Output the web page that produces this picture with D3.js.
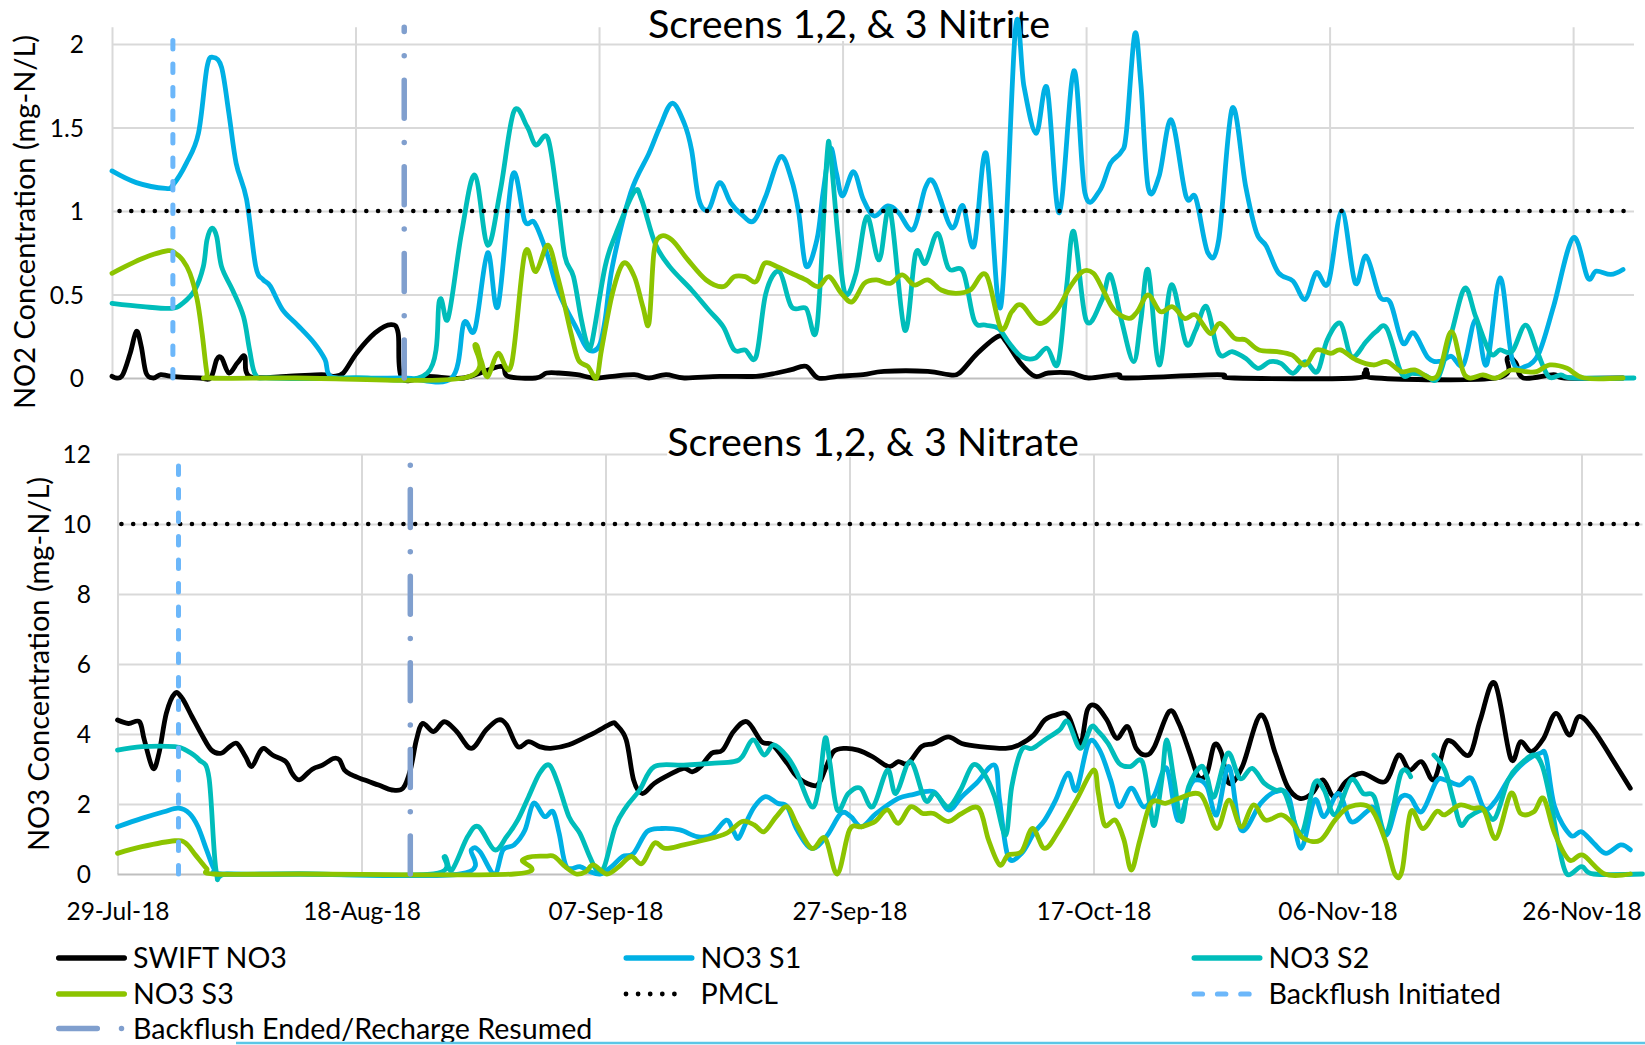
<!DOCTYPE html>
<html>
<head>
<meta charset="utf-8">
<script src="https://cdn.jsdelivr.net/npm/d3@7"></script>
<style>
  html, body { margin: 0; padding: 0; background: #ffffff; }
  svg { display: block; }
  text { font-family: Lato, "Open Sans", "Noto Sans", sans-serif; fill: #000000; }
</style>
</head>
<body>
<svg id="chart" width="1645" height="1045"></svg>
<script>
// ---------------------------------------------------------------------------
// Data: day offsets from the start date, concentration in mg-N/L
// ---------------------------------------------------------------------------
const startDate = "2018-07-29";
const endDate = "2018-12-01";
const xTickLabels = ["29-Jul-18", "18-Aug-18", "07-Sep-18", "27-Sep-18", "17-Oct-18", "06-Nov-18", "26-Nov-18"];
const no2TickValues = [0, 0.5, 1, 1.5, 2];
const no3TickValues = [0, 2, 4, 6, 8, 10, 12];
const no2Pmcl = 1;
const no3Pmcl = 10;
const backflushInitiatedDate = "2018-08-03";
const backflushEndedDate = "2018-08-22";
const seriesNames = ["SWIFT NO3", "NO3 S1", "NO3 S2", "NO3 S3"];

// Screens 1,2 & 3 nitrite
const no2Swift = [[0,0.01],[0.8,0.01],[1.5,0.15],[2,0.28],[2.4,0.19],[2.8,0.03],[3.4,0],[4,0.02],[4.9,0.01],[7.2,0],[8.1,0],[8.6,0.11],[9,0.12],[9.6,0.03],[10.3,0.09],[10.9,0.13],[11.3,0.01],[14.3,0.01],[17.2,0.02],[18.2,0.01],[19,0.03],[20.1,0.15],[21.6,0.27],[22.9,0.32],[23.5,0.27],[23.8,0],[26,0.01],[28.9,0],[31.9,0.07],[32.5,0.01],[34.8,0],[35.7,0.03],[36.7,0.03],[38.2,0.02],[39.6,0],[41.1,0.01],[42.9,0.02],[44.1,0],[45.5,0.02],[47,0],[49.9,0.01],[52.9,0.01],[54.6,0.03],[55.8,0.05],[57,0.07],[58,0],[59.6,0.01],[61.7,0.02],[63.4,0.04],[67,0.04],[68.7,0.02],[69.6,0.03],[71.1,0.15],[72.8,0.25],[73.4,0.22],[74.6,0.09],[75.8,0.01],[76.9,0.03],[78.7,0.03],[80.2,0],[82.6,0.02],[83.5,0],[90.8,0.02],[92.2,0],[102.1,0],[103,0.05],[103.8,0],[113.7,0],[114.6,0.12],[115.3,0.09],[115.9,0],[118.4,0.02],[119.3,0],[124.1,0]];
const no2S1 = [[0,1.24],[2,1.17],[4.4,1.135],[5,1.155],[6.1,1.285],[7.1,1.465],[7.8,1.86],[8.3,1.92],[9,1.86],[9.6,1.585],[10.2,1.285],[11.05,1.07],[11.8,0.67],[12.4,0.59],[13,0.55],[14,0.41],[15.2,0.32],[16.6,0.21],[17.5,0.11],[17.95,0.01],[20,0],[24,0],[27.9,0],[28.9,0.33],[29.8,0.29],[30.85,0.75],[31.7,0.43],[32.9,1.215],[33.9,0.94],[34.7,0.93],[35.7,0.75],[36.7,0.51],[38.2,0.29],[39.1,0.17],[40,0.19],[40.5,0.35],[41.1,0.67],[42.6,1.11],[44.1,1.345],[45,1.505],[46,1.645],[47,1.525],[47.6,1.365],[48.2,1.07],[49,1.01],[49.9,1.17],[50.8,1.05],[51.7,0.98],[52.7,0.94],[53.7,1.09],[54.9,1.325],[55.8,1.19],[56.4,0.99],[57,0.67],[57.9,0.83],[58.4,1.11],[59,1.375],[59.5,1.225],[60,1.09],[60.9,1.235],[61.7,1.07],[62.6,0.97],[63.7,1.03],[64.6,0.99],[65.8,0.89],[66.8,1.14],[67.5,1.17],[68.7,0.93],[69.2,0.91],[69.9,1.03],[70.8,0.79],[71.8,1.345],[73,0.43],[74.2,2.09],[74.9,1.745],[75.9,1.465],[76.8,1.735],[77.8,0.99],[79,1.84],[79.9,1.11],[81.1,1.12],[82,1.285],[82.9,1.355],[83.3,1.465],[84,2.06],[84.5,1.76],[85.1,1.14],[86,1.21],[87,1.545],[88.2,1.09],[89,1.08],[90,0.75],[90.9,0.83],[92,1.615],[93.1,1.15],[94,0.87],[94.8,0.79],[95.8,0.63],[97,0.58],[98,0.47],[98.9,0.63],[99.9,0.57],[101,1.0],[102.1,0.57],[103,0.73],[104.1,0.49],[105,0.45],[106,0.21],[106.9,0.27],[108.1,0.12],[109.1,0.1],[110,0.13],[111,0.08],[112,0.35],[112.9,0.08],[114,0.6],[115,0.11],[116.1,0.07],[117.2,0.15],[118.4,0.43],[120,0.84],[121.2,0.6],[121.9,0.64],[123.1,0.62],[124.1,0.65]];
const no2S2 = [[0,0.447],[2.55,0.427],[4.9,0.417],[5.8,0.447],[6.8,0.527],[7.5,0.667],[7.8,0.826],[8.2,0.896],[8.6,0.846],[9,0.667],[9.9,0.527],[10.8,0.367],[11.3,0.168],[11.8,0.018],[13,0],[20,0],[25.9,0.03],[26.9,0.467],[27.6,0.357],[28.7,0.866],[29.8,1.215],[30.85,0.796],[31.9,1.126],[33,1.595],[34.1,1.505],[34.8,1.395],[35.8,1.435],[36.6,1.066],[37.2,0.727],[37.9,0.607],[38.5,0.367],[39,0.208],[39.4,0.208],[40.5,0.667],[41.4,0.866],[42.9,1.116],[43.5,1.066],[44.6,0.806],[45.8,0.667],[47.6,0.527],[49,0.407],[50.2,0.307],[51.1,0.168],[52,0.168],[52.9,0.128],[53.7,0.507],[54.8,0.637],[55.8,0.427],[57,0.417],[57.9,0.307],[58.7,1.305],[59,1.345],[59.6,0.866],[60.2,0.507],[61.1,0.627],[62,0.966],[63,0.707],[63.9,1.006],[65.1,0.287],[66,0.746],[66.8,0.687],[67.8,0.866],[68.7,0.657],[69.9,0.637],[70.8,0.347],[71.7,0.317],[72.8,0.297],[73.7,0.208],[74.7,0.128],[75.8,0.118],[76.8,0.178],[77.7,0.088],[78.4,0.547],[79,0.876],[80,0.347],[81.3,0.467],[82,0.617],[82.9,0.347],[83.9,0.098],[84.5,0.347],[85.1,0.647],[86,0.078],[87,0.557],[88.2,0.208],[89,0.287],[89.9,0.427],[90.9,0.148],[92,0.158],[93.1,0.118],[94.1,0.058],[95.1,0.098],[96,0.088],[97,0.028],[98,0.098],[99,0.038],[99.8,0.228],[100.9,0.327],[101.8,0.128],[103,0.218],[103.8,0.277],[104.7,0.297],[105.9,0.028],[106.8,0.028],[107.8,0.018],[108.9,0],[110,0.267],[111.1,0.537],[112,0.367],[113.2,0.148],[114,0.168],[115,0.16],[116.1,0.317],[117.1,0.148],[118,0.008],[119,0.018],[120,0],[125,0]];
const no2S3 = [[0,0.627],[2.55,0.717],[4.6,0.762],[5.2,0.747],[5.8,0.707],[6.4,0.627],[7,0.467],[7.4,0.267],[7.8,0.028],[8.1,0],[15,0],[28.9,0],[29.8,0.198],[30.3,0.108],[30.85,0.008],[31.7,0.148],[32.8,0.078],[33.9,0.746],[34.8,0.637],[35.8,0.796],[36.6,0.607],[37.2,0.427],[37.7,0.267],[38.3,0.108],[39.1,0.068],[39.8,0],[40.2,0.168],[41.1,0.507],[42,0.687],[42.9,0.607],[43.6,0.427],[44.1,0.327],[44.5,0.746],[45,0.846],[46,0.826],[47.3,0.707],[48.8,0.587],[50.2,0.547],[51.1,0.607],[52,0.607],[52.9,0.577],[53.6,0.687],[54.6,0.667],[55.8,0.627],[57,0.587],[58,0.547],[58.9,0.607],[59.9,0.507],[60.8,0.457],[61.8,0.567],[62.8,0.587],[63.9,0.567],[64.9,0.617],[65.9,0.557],[67,0.587],[68.1,0.527],[69.3,0.507],[70.5,0.527],[71.8,0.617],[73,0.297],[73.9,0.397],[74.7,0.437],[76.1,0.327],[77.5,0.397],[78.7,0.547],[79.7,0.637],[80.6,0.627],[81.4,0.527],[82.3,0.407],[83.5,0.357],[84.2,0.397],[85.1,0.497],[86.1,0.397],[87.1,0.427],[88.1,0.357],[89,0.377],[90.2,0.267],[91,0.327],[92.2,0.238],[93.1,0.228],[94.2,0.168],[95.7,0.158],[96.9,0.138],[98,0.078],[98.9,0.168],[100.1,0.148],[100.9,0.168],[102.2,0.108],[103.6,0.078],[104.7,0.098],[105.9,0.038],[107,0.048],[108.8,0.008],[110,0.277],[111.1,0.018],[112.6,0.018],[113.7,0],[114.9,0.048],[116.1,0.038],[117,0.038],[118.1,0.078],[119.5,0.058],[120.9,0],[124.1,0]];

// Screens 1,2 & 3 nitrate (null marks a missing sample)
const no3Swift = [[0,4.4],[0.9,4.3],[1.8,4.35],[2.2,3.83],[2.9,3.02],[3.4,3.45],[4,4.59],[4.7,5.16],[5.3,5.02],[6.1,4.5],[7,3.92],[7.7,3.54],[8.5,3.45],[9.2,3.64],[9.8,3.73],[10.5,3.35],[11,3.07],[11.6,3.45],[12,3.59],[12.7,3.4],[13.8,3.21],[14.3,2.88],[14.9,2.69],[15.7,2.92],[16.1,3.02],[16.8,3.11],[17.7,3.3],[18.2,3.26],[18.6,2.97],[19.2,2.83],[20.2,2.69],[21.4,2.54],[22.5,2.4],[23.4,2.45],[24,2.97],[24.5,3.83],[25,4.3],[25.9,4.07],[26.8,4.35],[27.8,4.07],[29,3.59],[30.2,4.11],[31.2,4.4],[31.9,4.26],[32.8,3.64],[33.7,3.78],[34.6,3.64],[35.5,3.59],[37,3.69],[39,4.02],[40.5,4.3],[40.9,4.26],[41.7,3.83],[42.3,2.69],[43,2.3],[44,2.59],[45.2,2.83],[46.4,3.02],[47.1,2.92],[47.8,3.07],[48.7,3.45],[49.6,3.54],[50.5,4.07],[51.6,4.35],[52.8,3.78],[53.7,3.69],[54.9,3.16],[55.7,2.78],[56.9,2.54],[57.5,2.59],[58.1,3.07],[58.7,3.5],[59.6,3.59],[60.7,3.54],[61.9,3.35],[63.2,3.07],[64,3.21],[64.8,3.16],[65.9,3.64],[66.9,3.73],[68.1,3.92],[69.2,3.73],[70.7,3.64],[72.8,3.59],[73.9,3.69],[75.1,3.97],[76,4.4],[76.9,4.54],[77.9,4.54],[78.9,3.73],[79.5,4.69],[80.2,4.8],[81.1,4.4],[81.9,3.88],[82.8,4.21],[83.5,3.59],[84.3,3.4],[85,3.64],[86.2,4.64],[87,4.3],[87.9,3.45],[88.6,2.78],[89.3,2.88],[89.9,3.69],[90.5,3.45],[91.1,2.59],[92.2,3.07],[93.7,4.54],[94.9,3.45],[95.9,2.5],[96.9,2.16],[97.9,2.3],[98.8,2.69],[99.7,2.21],[100.7,2.64],[102,2.88],[103.9,2.64],[105,3.4],[105.9,2.97],[106.9,3.21],[107.9,2.69],[108.8,3.69],[109.4,3.78],[110.8,3.4],[111.7,4.4],[112.9,5.45],[114.2,3.3],[115,3.78],[115.9,3.5],[116.9,3.88],[117.9,4.59],[119,3.97],[119.8,4.5],[121,4.11],[122.4,3.35],[124,2.45]];
const no3S1 = [[0,1.35],[2,1.59],[3.8,1.78],[5,1.88],[5.9,1.73],[6.6,1.35],[7.3,0.69],[7.9,0.16],[8.5,0],[15,0],[28.1,0],[29,0.69],[29.7,0.64],[30.9,0],[31.6,0.69],[32.5,0.83],[33.4,1.26],[34.1,2.02],[35,1.64],[35.7,1.78],[36.2,1.16],[36.8,0.21],[37.9,0.21],[38.7,0.07],[39.6,0],[40.5,0.21],[41.4,0.5],[42.3,0.59],[43.4,1.21],[44.6,1.3],[46.1,1.26],[47.5,1.07],[48.7,1.11],[49.9,1.54],[50.5,1.21],[50.9,1.02],[51.5,1.45],[52.2,1.92],[53.1,2.21],[54.1,2.02],[54.9,1.92],[55.7,1.26],[56.9,0.73],[58.1,1.07],[59.3,1.73],[60.1,1.64],[61,1.35],[62.2,1.73],[64,2.16],[65.1,2.26],[66.9,2.35],[68.1,1.83],[69.2,2.21],[70.4,2.59],[71.9,3.11],[72.3,2.11],[73,0.5],[74.1,0.59],[75.1,1.16],[76,1.54],[76.9,2.11],[77.9,2.88],[78.6,2.4],[79.6,3.75],[80.5,3.54],[81.4,2.69],[82.1,1.92],[83.1,2.45],[84.1,1.92],[85,2.26],[86,3.02],[86.9,1.54],[87.9,2.5],[88.5,2.69],[89.3,2.5],[90.1,1.69],[91.1,3.07],[92.1,1.26],[93.7,2.02],[94.9,2.35],[96,2.21],[97,0.73],[98.1,2.11],[98.9,1.64],[100.1,2.3],[101.1,1.5],[102.4,1.78],[103,1.88],[104,1.11],[105,2.11],[105.9,2.21],[106.9,1.78],[108.1,2.64],[108.8,2.69],[110,2.54],[111,2.73],[112,1.88],[112.9,2.07],[114,2.69],[115.2,3.16],[116.6,3.45],[117.1,3.35],[117.8,1.92],[119.1,1.11],[120,1.21],[121,0.88],[122,0.59],[123.2,0.83],[124,0.69]];
const no3S2 = [[0,3.54],[2,3.64],[4.7,3.64],[5.6,3.54],[6.7,3.26],[7.5,2.75],[8.1,0.05],[9,0],[15,0],[25.9,0],[26.8,0.5],[27.4,0.11],[28.7,1.07],[29.6,1.35],[30.9,0.69],[31.9,1.07],[32.8,1.54],[33.7,2.21],[34.6,2.88],[35.4,3.11],[36.1,2.59],[37,1.64],[37.9,1.16],[38.7,0.5],[39.3,0.11],[39.9,0.21],[40.8,1.35],[41.7,1.92],[42.8,2.4],[44,3.07],[46.4,3.11],[48.7,3.16],[50.5,3.21],[51.2,3.35],[52.1,3.83],[53,3.4],[53.8,3.69],[54.9,3.35],[55.7,2.88],[56.9,1.92],[57.5,2.5],[58,3.88],[58.4,3.16],[59,1.83],[59.9,2.3],[60.9,2.45],[61.9,1.92],[63.1,2.97],[63.8,2.3],[65,3.21],[66.2,2.11],[67,2.3],[68.1,1.92],[69.1,2.4],[70.1,3.11],[71,2.88],[71.9,2.21],[72.8,1.11],[73.3,2.5],[74.1,3.54],[75,3.59],[76,3.83],[77.2,4.11],[77.9,4.35],[78.9,3.59],[79.8,4.2],[80.3,4.11],[81.2,3.73],[82.1,3.16],[83,3.07],[84,3.21],[84.6,2.02],[85,1.4],[85.6,2.69],[86,3.83],[86.6,2.69],[87.2,1.5],[87.8,2.5],[88.8,3.07],[89.3,2.78],[89.9,2.21],[91,3.45],[92,2.73],[93,3.02],[94,2.59],[94.9,2.4],[95.7,2.3],[97,1.16],[98.1,2.59],[98.9,2.4],[99.8,1.69],[101.1,2.69],[102.1,2.3],[103,2.21],[104,1.16],[105.2,2.88],[106,2.78],[107,null],[107.9,3.4],[108.8,2.97],[109.5,2.11],[110.1,1.4],[110.8,1.64],[112,1.83],[112.9,1.59],[114,2.69],[114.9,3.11],[116.1,3.4],[116.8,3.07],[117.5,2.02],[118.1,0.88],[118.8,0],[120,0.21],[121,0],[125,0]];
const no3S3 = [[0,0.59],[2,0.78],[4.7,0.95],[5.6,0.88],[6.4,0.54],[7.3,0.16],[7.9,0],[15,0],[32.5,0],[33.2,0.4],[34,0.5],[35.1,0.51],[35.8,0.5],[36.7,0.21],[37.6,0],[38.4,0.07],[39,0.26],[40.1,0],[41.1,0.21],[42.1,0.5],[43,0.3],[44,0.88],[44.9,0.73],[46.4,0.83],[48.1,0.97],[49.9,1.16],[51.2,1.5],[52.2,1.4],[53,1.21],[54,1.64],[54.9,1.92],[55.7,1.4],[56.9,0.73],[58,1.02],[59,0],[60,1.26],[61,1.35],[62.1,1.5],[63.1,1.83],[64,1.45],[65,1.92],[66,1.73],[66.9,1.73],[68.1,1.5],[69.2,1.73],[70.6,1.88],[71.4,0.97],[72.3,0.26],[73,0.54],[74.1,0.64],[75,1.3],[76,0.73],[77.2,1.26],[78.6,2.11],[80,2.97],[80.4,2.3],[80.9,1.4],[81.8,1.54],[82.5,0.97],[83.1,0.11],[83.8,0.97],[84.7,2.02],[85.9,2.02],[87,2.16],[88.8,2.26],[90.1,1.3],[91.1,2.11],[92.1,1.35],[93.1,1.97],[94.1,1.54],[95.4,1.69],[96.3,1.45],[97.2,1.02],[98.6,0.97],[99.8,1.54],[101,1.92],[102.7,1.88],[103.9,0.97],[104.7,0],[105.3,0.11],[106,1.78],[107,1.3],[108.1,1.78],[108.8,1.69],[110,1.97],[111.1,1.88],[112,1.83],[113,1.02],[114.2,2.3],[115,1.73],[116.1,1.78],[116.9,2.16],[117.8,1.16],[119,0.4],[120.1,0.54],[121.9,0],[124,0]];

// ---------------------------------------------------------------------------
// Styles
// ---------------------------------------------------------------------------
const seriesColors = ["#000000", "#00B0E4", "#00BDBA", "#8CC400"];
const gridColor = "#D9D9D9";
const axisColor = "#BFBFBF";
const initiatedColor = "#6CB7FA";
const endedColor = "#809FCE";

const svg = d3.select("#chart");
const parseIso = d3.utcParse("%Y-%m-%d");
const parseTick = d3.utcParse("%d-%b-%y");
const formatTick = d3.utcFormat("%d-%b-%y");
const t0 = parseIso(startDate);
const t1 = parseIso(endDate);
const dayToDate = d => new Date(t0.getTime() + d * 864e5);
const tickDates = xTickLabels.map(parseTick);

function drawPanel(cfg) {
  const x = d3.scaleUtc().domain([t0, t1]).range([cfg.left, cfg.right]);
  const y = d3.scaleLinear().domain([0, cfg.yMax]).range([cfg.bottom, cfg.top]);
  const g = svg.append("g");
  const h = cfg.bottom - cfg.top;
  const w = cfg.right - cfg.left;

  // vertical gridlines
  const vg = g.append("g")
    .attr("transform", `translate(0,${cfg.bottom})`)
    .call(d3.axisBottom(x).tickValues(tickDates).tickSize(-h).tickFormat(""));
  vg.select(".domain").remove();
  vg.selectAll(".tick line").attr("stroke", gridColor).attr("stroke-width", 2);

  // horizontal gridlines + value labels
  const hg = g.append("g")
    .attr("transform", `translate(${cfg.left},0)`)
    .call(d3.axisLeft(y).tickValues(cfg.ticks).tickSize(-w).tickPadding(cfg.yPad).tickFormat(d3.format("")));
  hg.select(".domain").remove();
  hg.attr("font-family", null).attr("font-size", null);
  hg.selectAll(".tick line")
    .attr("stroke", d => d === 0 ? axisColor : gridColor)
    .attr("stroke-width", 2);
  hg.selectAll(".tick text")
    .style("font-size", "24.5px").attr("dy", "0.36em").attr("fill", "#000");

  // date labels
  if (cfg.dateLabels) {
    const xa = g.append("g")
      .attr("transform", `translate(0,${cfg.bottom})`)
      .call(d3.axisBottom(x).tickValues(tickDates).tickSize(0).tickPadding(29).tickFormat(formatTick));
    xa.select(".domain").remove();
    xa.attr("font-family", null).attr("font-size", null);
    xa.selectAll(".tick text").style("font-size", "24.5px").attr("fill", "#000");
  }

  // axis title
  g.append("text")
    .attr("transform", `translate(${cfg.yTitleX},${cfg.yTitleY}) rotate(-90)`)
    .attr("text-anchor", "middle")
    .attr("dy", "0.36em")
    .style("font-size", "29px")
    .text(cfg.yTitle);

  // chart title sits on a white box over the gridlines
  const titleG = g.append("g");
  const bg = titleG.append("rect").attr("fill", "#ffffff");
  const title = titleG.append("text")
    .attr("x", cfg.titleX).attr("y", cfg.titleY)
    .attr("text-anchor", "middle")
    .style("font-size", "39.5px")
    .text(cfg.title);
  const bb = title.node().getBBox();
  bg.attr("x", bb.x).attr("width", bb.width)
    .attr("y", bb.y).attr("height", cfg.titleY + cfg.titleBoxPad - bb.y);

  // series
  const line = d3.line()
    .defined(d => d[1] != null)
    .x(d => x(dayToDate(d[0])))
    .y(d => y(d[1]))
    .curve(d3.curveCardinal.tension(0));
  cfg.series.forEach((s, i) => {
    g.append("path")
      .datum(s)
      .attr("fill", "none")
      .attr("stroke", seriesColors[i])
      .attr("stroke-width", 4.8)
      .attr("stroke-linejoin", "round")
      .attr("stroke-linecap", "round")
      .attr("d", line);
  });

  // PMCL
  g.append("line")
    .attr("x1", cfg.left).attr("x2", cfg.right)
    .attr("y1", y(cfg.pmcl)).attr("y2", y(cfg.pmcl))
    .attr("stroke", "#000").attr("stroke-width", 4.6)
    .attr("stroke-linecap", "round")
    .attr("stroke-dasharray", "0 11.75")
    .attr("stroke-dashoffset", cfg.pmclOffset);

  // backflush markers, drawn upward from zero
  const xi = x(parseIso(backflushInitiatedDate));
  g.append("line")
    .attr("x1", xi).attr("x2", xi)
    .attr("y1", y(0)).attr("y2", y(cfg.yMax))
    .attr("stroke", initiatedColor).attr("stroke-width", 5)
    .attr("stroke-linecap", "round")
    .attr("stroke-dasharray", "8.5 15");
  const xe = x(parseIso(backflushEndedDate));
  g.append("line")
    .attr("x1", xe).attr("x2", xe)
    .attr("y1", y(0)).attr("y2", y(cfg.yMax))
    .attr("stroke", endedColor).attr("stroke-width", 5.5)
    .attr("stroke-linecap", "round")
    .attr("stroke-dasharray", "38 24.3 0.01 24.3");
}

drawPanel({
  left: 112, right: 1634, top: 27.3, bottom: 378, yMax: 2.1,
  ticks: no2TickValues, yPad: 28, dateLabels: false,
  yTitle: "NO2 Concentration (mg-N/L)", yTitleX: 25, yTitleY: 222,
  title: "Screens 1,2, & 3 Nitrite", titleX: 849, titleY: 38, titleBoxPad: 3,
  series: [no2Swift, no2S1, no2S2, no2S3], pmcl: no2Pmcl, pmclOffset: 4.2
});

drawPanel({
  left: 117.5, right: 1642.5, top: 454, bottom: 874, yMax: 12,
  ticks: no3TickValues, yPad: 26.5, dateLabels: true,
  yTitle: "NO3 Concentration (mg-N/L)", yTitleX: 39, yTitleY: 664,
  title: "Screens 1,2, & 3 Nitrate", titleX: 873, titleY: 456, titleBoxPad: 1,
  series: [no3Swift, no3S1, no3S2, no3S3], pmcl: no3Pmcl, pmclOffset: 7.8
});

// ---------------------------------------------------------------------------
// Legend
// ---------------------------------------------------------------------------
const legendItems = [
  { name: seriesNames[0], kind: "solid", color: seriesColors[0], col: 0, row: 0 },
  { name: seriesNames[1], kind: "solid", color: seriesColors[1], col: 1, row: 0 },
  { name: seriesNames[2], kind: "solid", color: seriesColors[2], col: 2, row: 0 },
  { name: seriesNames[3], kind: "solid", color: seriesColors[3], col: 0, row: 1 },
  { name: "PMCL", kind: "dots", color: "#000000", col: 1, row: 1 },
  { name: "Backflush Initiated", kind: "dash", color: initiatedColor, col: 2, row: 1 },
  { name: "Backflush Ended/Recharge Resumed", kind: "dashdot", color: endedColor, col: 0, row: 2 }
];
const legendCols = [56, 623.5, 1191.5];
const legendRows = [958, 994, 1028.5];
const symbolLen = 71;

const legend = svg.append("g");
legendItems.forEach(it => {
  const lx = legendCols[it.col];
  const ly = legendRows[it.row];
  const sym = legend.append("line")
    .attr("y1", ly).attr("y2", ly)
    .attr("stroke", it.color)
    .attr("stroke-linecap", "round");
  if (it.kind === "solid") {
    sym.attr("x1", lx + 2.7).attr("x2", lx + symbolLen - 2.7).attr("stroke-width", 5.4);
  } else if (it.kind === "dots") {
    sym.attr("x1", lx + 2.5).attr("x2", lx + 63).attr("stroke-width", 4.8)
      .attr("stroke-dasharray", "0 12.1");
  } else if (it.kind === "dash") {
    sym.attr("x1", lx + 2.7).attr("x2", lx + 62).attr("stroke-width", 5.2)
      .attr("stroke-dasharray", "8.3 15");
  } else {
    sym.attr("x1", lx + 2.8).attr("x2", lx + 70).attr("stroke-width", 5.5)
      .attr("stroke-dasharray", "38.5 24.2 0.01 40");
  }
  legend.append("text")
    .attr("x", lx + 77).attr("y", ly)
    .attr("dy", "0.36em")
    .style("font-size", "28.6px")
    .text(it.name);
});

// thin rule along the bottom edge
svg.append("line")
  .attr("x1", 236).attr("x2", 1645)
  .attr("y1", 1043).attr("y2", 1043)
  .attr("stroke", "#5BC6E6").attr("stroke-width", 2.5);
</script>
</body>
</html>
